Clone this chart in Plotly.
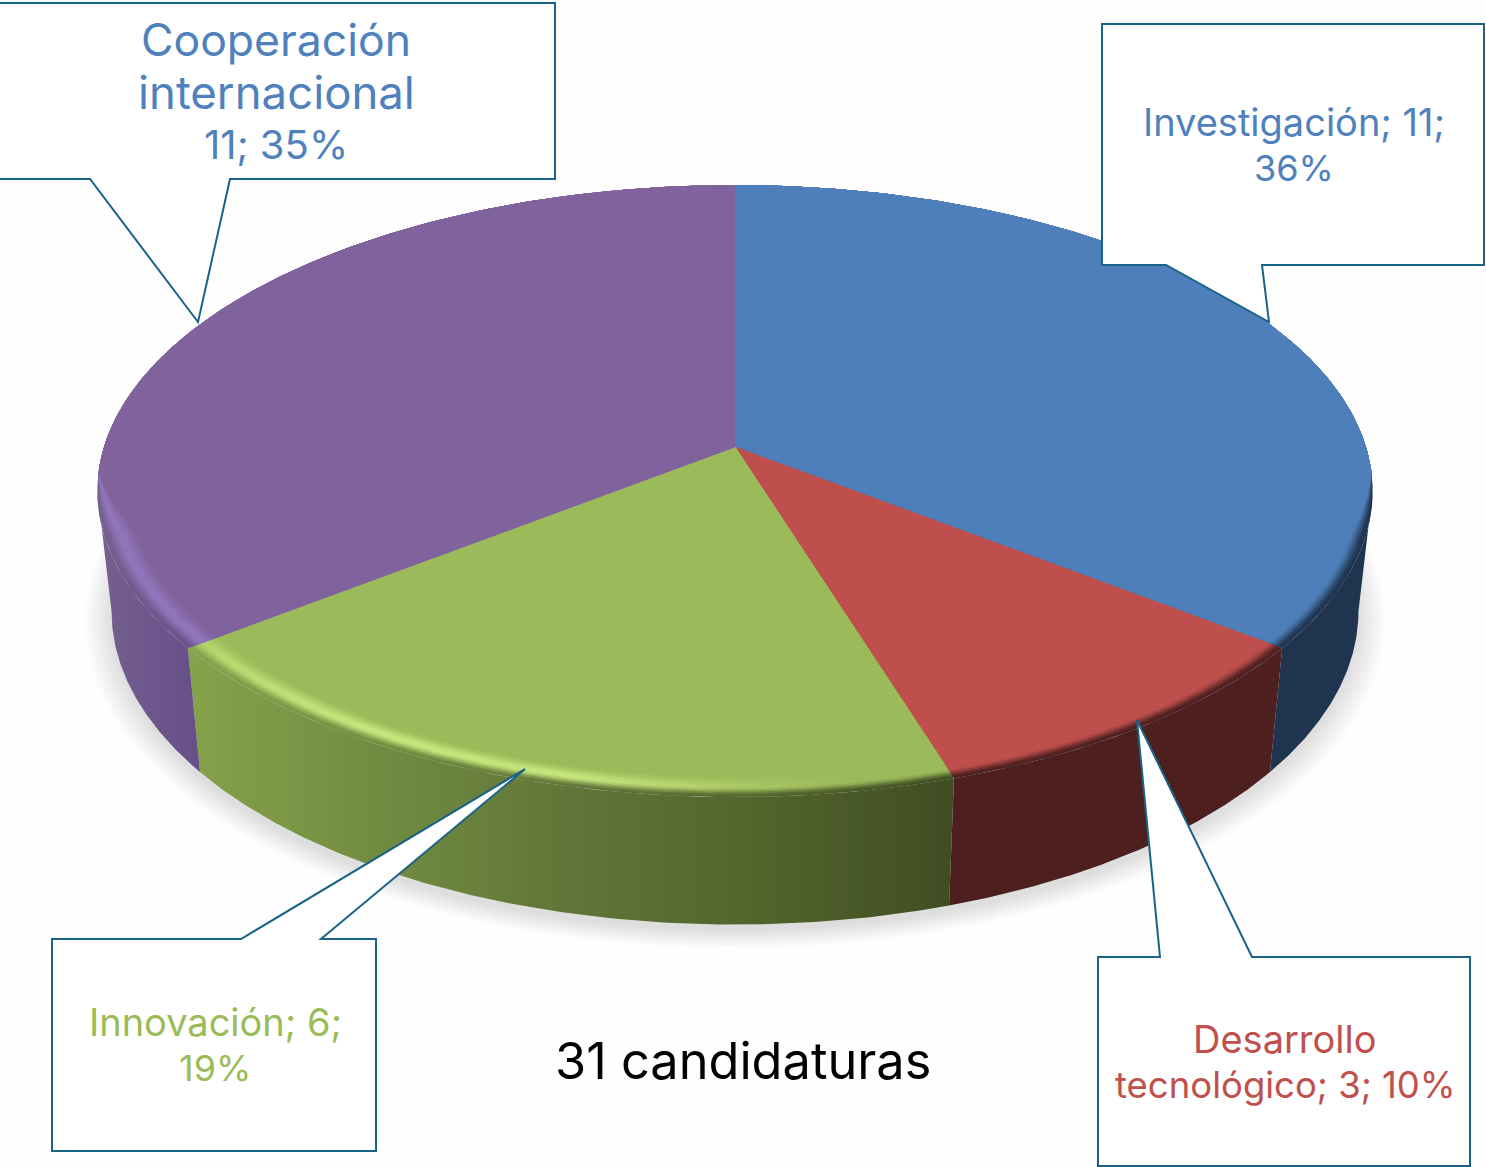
import numpy as np
import plotly.graph_objects as go

# ---- data ----
categories = ["Investigación", "Desarrollo tecnológico", "Innovación", "Cooperación internacional"]
values = [11, 3, 6, 11]
percents = [36, 10, 19, 35]
total_label = "31 candidaturas"

# ---- styles ----
top_colors = ["#4e7fba", "#be4f4c", "#9bba5a", "#80629c"]
label_colors = ["#4f81bd", "#c0504d", "#9bbb59", "#4f81bd"]
wall_keys = [
    [(1270, "#1f344f"), (1372, "#1f344f")],
    [(946, "#4d1f1f"), (1276, "#4d1f1f")],
    [(192, "#86a24b"), (400, "#6f8a40"), (600, "#5e7236"), (750, "#53662d"), (948, "#404d23")],
    [(96, "#75608f"), (199, "#674f88")],
]
# highlight colour along the rim
rim_keys = [
    [(1100, "#4e7fba"), (1372, "#4e7fba")],
    [(946, "#be4f4c"), (1276, "#be4f4c")],
    [(192, "#b4d26a"), (320, "#c6e57c"), (600, "#c6e57c"), (720, "#aecb68"), (830, "#9bba5a"), (948, "#9bba5a")],
    [(96, "#9076ba"), (199, "#9076ba")],
]
BG = "#fdfefd"
EDGE = "#1a6388"
FONT = "Inter"

# ---- projection of the pie disc onto the page ----
CX, K = 735.0, 0.1438
TOP = dict(a=631.0, b=299.7, cy=447.0)
BOT = dict(a=617.0, b=307.0, cy=566.0)


def project(disc, r, th):
    w = 1 + K * r * np.cos(th)
    return CX + disc["a"] * r * np.sin(th) / w, disc["cy"] - disc["b"] * r * np.cos(th) / w


def hex2rgb(c):
    return np.array([int(c[i:i + 2], 16) for i in (1, 3, 5)], float)


def key_colour(keys, x):
    xs = [p[0] for p in keys]
    rgb = np.array([hex2rgb(p[1]) for p in keys])
    return np.array([np.interp(x, xs, rgb[:, j]) for j in range(3)])


def css(rgb):
    return "rgb(%d,%d,%d)" % tuple(np.round(rgb))


fig = go.Figure()


def add_poly(x, y, keys=None, fill=None):
    tr = dict(x=x, y=y, mode="lines", line=dict(width=0), fill="toself",
              hoverinfo="skip", showlegend=False)
    if fill:
        tr["fillcolor"] = fill
    else:
        lo, hi = float(np.min(x)), float(np.max(x))
        stops = np.linspace(lo, hi, 9)
        tr["fillgradient"] = dict(type="horizontal", start=lo, stop=hi,
                                  colorscale=[[float(i) / 8, keys(s)] for i, s in enumerate(stops)])
    fig.add_trace(go.Scatter(**tr))


# slice angles from the values
cum = np.cumsum([0] + values) / sum(values) * 2 * np.pi
starts, ends = cum[:-1], cum[1:]
full = np.linspace(0, 2 * np.pi, 361)

# soft shadow under the pie
for s in np.linspace(1.042, 1.0, 16):
    x, y = project(BOT, s, full)
    add_poly(x, y + 6, fill="rgba(80,90,80,0.012)")

# side walls (only the front part of the ring is visible)
vis_a, vis_b = np.arccos(-K), 2 * np.pi - np.arccos(-K)
for i in range(4):
    a, b = max(starts[i], vis_a), min(ends[i], vis_b)
    if b <= a:
        continue
    th = np.linspace(a, b, 120)
    xt, yt = project(TOP, 1.0, th)
    xb, yb = project(BOT, 1.0, th)
    x = np.r_[xt, xb[::-1]]
    y = np.r_[yt, yb[::-1]]
    add_poly(x, y, keys=lambda s, i=i: css(key_colour(wall_keys[i], s)))

# top faces with a bevelled rim along the front
N = 12
BEVEL = 0.05
for i in range(4):
    th = np.linspace(starts[i], ends[i], 200)
    taper = np.clip(-(np.cos(th) + K - 0.06) / 0.2, 0, 1)
    for j in range(N + 1):
        t = j / N
        r = 1 - BEVEL * t * taper
        xs, ys = project(TOP, r, th)
        x = np.r_[CX, xs, CX]
        y = np.r_[TOP["cy"], ys, TOP["cy"]]

        def colour(s, t=t, i=i):
            side = key_colour(wall_keys[i], s)
            rim = key_colour(rim_keys[i], s)
            face = hex2rgb(top_colors[i])
            if t < 0.45:
                f = t / 0.45
                f = f * f * (3 - 2 * f)
                return css(side * (1 - f) + rim * f)
            f = (t - 0.45) / 0.55
            f = f * f * (3 - 2 * f)
            return css(rim * (1 - f) + face * f)

        add_poly(x, y, keys=colour)

# callouts
callouts = [
    [(1102, 24), (1484, 24), (1484, 265), (1262, 265), (1269, 322), (1166, 265), (1102, 265)],
    [(1098, 957), (1160, 957), (1137, 720), (1252, 957), (1470, 957), (1470, 1166), (1098, 1166)],
    [(52, 939), (241, 939), (525, 769), (321, 939), (376, 939), (376, 1151), (52, 1151)],
    [(-6, 3), (555, 3), (555, 179), (230, 179), (198, 322), (90, 179), (-6, 179)],
]
shapes = []
for pts in callouts:
    path = "M " + " L ".join(f"{px},{py}" for px, py in pts) + " Z"
    shapes.append(dict(type="path", path=path, xref="x", yref="y", fillcolor="#ffffff",
                       line=dict(color=EDGE, width=2), layer="above"))

# label lines built from the data
lines = [
    (f"{categories[0]}; {values[0]};", 1294, 122, 0, 38),
    (f"{percents[0]}%", 1294, 168, 0, 36),
    (categories[1].split()[0], 1285, 1039, 1, 38),
    (f"{categories[1].split()[1]}; {values[1]}; {percents[1]}%", 1285, 1085, 1, 36.5),
    (f"{categories[2]}; {values[2]};", 215, 1022, 2, 38),
    (f"{percents[2]}%", 215, 1068, 2, 36),
    (categories[3].split()[0], 276, 40, 3, 44.5),
    (categories[3].split()[1], 276, 92, 3, 45.5),
    (f"{values[3]}; {percents[3]}%", 276, 144, 3, 40),
]
annotations = []
for text, ax, ay, idx, size in lines:
    annotations.append(dict(text=text, x=ax, y=ay, xref="x", yref="y", showarrow=False,
                            xanchor="center", yanchor="middle",
                            font=dict(family=FONT, size=size, color=label_colors[idx])))
annotations.append(dict(text=total_label, x=743, y=1060, xref="x", yref="y", showarrow=False,
                        xanchor="center", yanchor="middle",
                        font=dict(family=FONT, size=50.5, color="#000000")))

fig.update_layout(
    width=1486, height=1167, margin=dict(l=0, r=0, t=0, b=0),
    paper_bgcolor=BG, plot_bgcolor=BG, showlegend=False,
    shapes=shapes, annotations=annotations,
    xaxis=dict(range=[0, 1486], visible=False, fixedrange=True),
    yaxis=dict(range=[1167, 0], visible=False, fixedrange=True),
)
fig.write_html("out.html", config=dict(displayModeBar=False),
               post_script="document.body.style.margin='0';document.documentElement.style.overflow='hidden';")
